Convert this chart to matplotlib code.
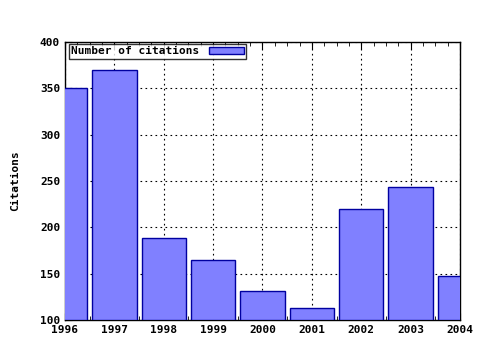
import matplotlib
matplotlib.use('Agg')
import matplotlib.pyplot as plt
from matplotlib.ticker import MultipleLocator

years = [1996, 1997, 1998, 1999, 2000, 2001, 2002, 2003, 2004]
citations = [350, 370, 189, 165, 131, 113, 220, 243, 148]

plt.rcParams['font.family'] = 'DejaVu Sans Mono'
plt.rcParams['font.weight'] = 'bold'
plt.rcParams['axes.labelweight'] = 'bold'
plt.rcParams['font.size'] = 8

fig = plt.figure(figsize=(4.8, 3.5), dpi=100)
ax = fig.add_axes([0.1354, 0.0857, 0.8229, 0.7943])

ax.bar(years, [c - 100 for c in citations], bottom=100, width=0.9,
       color='#8080ff', edgecolor='#0000a0', linewidth=1.0,
       label='Number of citations', zorder=3)

ax.set_xlim(1996, 2004)
ax.set_ylim(100, 400)
ax.set_xticks(years)
ax.set_xticklabels([str(y) for y in years])
ax.xaxis.set_minor_locator(MultipleLocator(0.25))
ax.set_yticks(range(100, 401, 50))
ax.grid(True, which='major', color='black', linestyle=(0, (1.5, 3)), linewidth=0.8, zorder=1)
ax.tick_params(which='both', direction='in', top=True, right=False, length=5)
ax.tick_params(which='minor', length=3)
ax.set_ylabel('Citations', labelpad=14)

for s in ax.spines.values():
    s.set_linewidth(1.0)

leg = ax.legend(loc='upper left', frameon=True, fancybox=False, borderpad=0.2,
                handlelength=3.2, handleheight=0.7, borderaxespad=0.2,
                bbox_to_anchor=(0.005, 1.0))
leg.get_frame().set_edgecolor('black')
leg.get_frame().set_linewidth(1.0)
leg.set_zorder(5)
# text before the patch, like the original
leg._legend_box.get_children()[1].get_children()[0].get_children()[0].get_children().reverse()

fig.savefig('out.png', dpi=100)
